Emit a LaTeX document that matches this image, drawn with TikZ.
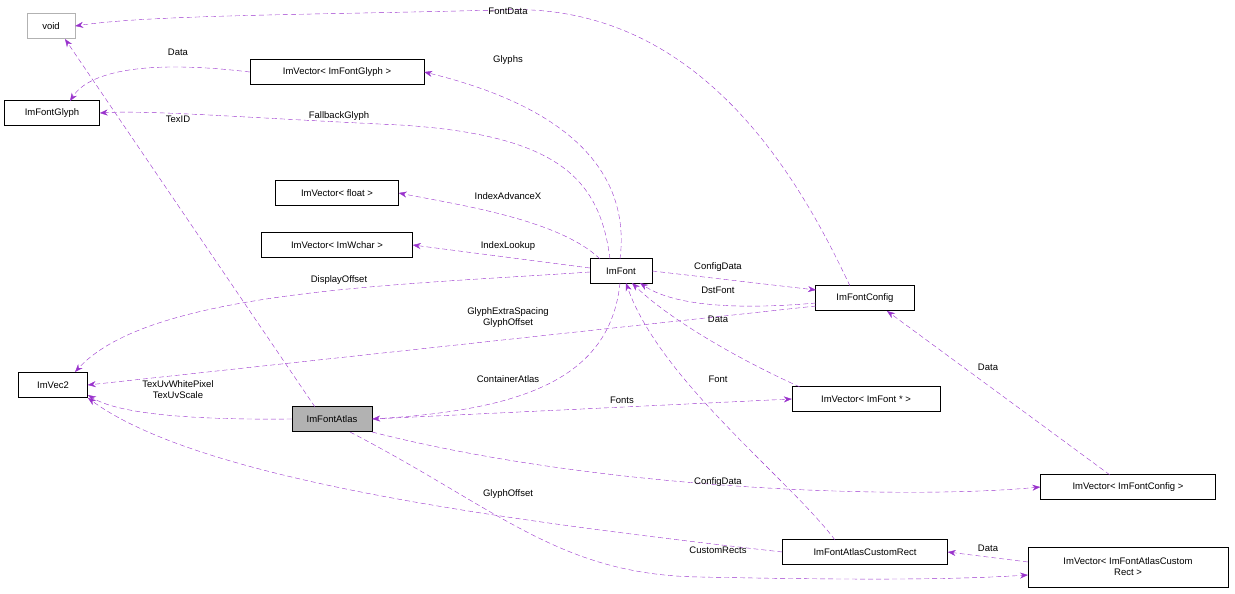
\documentclass[tikz,border=0pt]{standalone}
\usepackage{fontspec}
\setmainfont{Liberation Sans}
\usetikzlibrary{arrows.meta}
\definecolor{edge}{RGB}{153,50,204}
\begin{document}
\begin{tikzpicture}[x=1pt,y=-1pt,
  box/.style={draw,fill=white,minimum height=25pt,inner sep=1pt,font=\fontsize{9.5}{11}\selectfont},
  lbl/.style={font=\fontsize{9.5}{11}\selectfont,inner sep=1pt,align=center},
  e/.style={draw=edge,dashed,dash pattern=on 5pt off 3pt,-{Stealth[length=8pt,width=6pt,fill=edge]}}]
\useasboundingbox (0,0) rectangle (1235,594);
\node[box,draw=gray!60,minimum width=48pt] (void) at (51,26) {void};
\node[box,minimum width=95pt] (glyph) at (52,113) {ImFontGlyph};
\node[box,minimum width=174pt] (vglyph) at (337,72) {ImVector< ImFontGlyph >};
\node[box,minimum width=123pt] (vfloat) at (337,193) {ImVector< float >};
\node[box,minimum width=151pt] (vwchar) at (337,245) {ImVector< ImWchar >};
\node[box,minimum width=62pt] (font) at (621,271) {ImFont};
\node[box,minimum width=99pt] (cfg) at (865,298) {ImFontConfig};
\node[box,minimum width=69pt] (vec2) at (53,385) {ImVec2};
\node[box,fill=black!30,minimum width=80pt] (atlas) at (332,419) {ImFontAtlas};
\node[box,minimum width=148pt] (vfont) at (866,399) {ImVector< ImFont * >};
\node[box,minimum width=175pt] (vcfg) at (1128,487) {ImVector< ImFontConfig >};
\node[box,minimum width=165pt] (rect) at (865,552) {ImFontAtlasCustomRect};
\node[box,minimum width=200pt,minimum height=40pt,align=center] (vrect) at (1128,567) {ImVector< ImFontAtlasCustom\\Rect >};

\draw[e] (850,286) .. controls (800,180) and (700,0) .. (500,10) .. controls (300,15) and (150,15) .. (void.east);
\draw[e] (vglyph.west) .. controls (150,60) and (90,70) .. (70,101);
\draw[e] (620,259) .. controls (630,180) and (580,110) .. (vglyph.east);
\draw[e] (610,259) .. controls (600,180) and (560,135) .. (400,125) .. controls (250,118) and (150,110) .. (glyph.east);
\draw[e] (315,407) -- (65,39);
\draw[e] (600,259) .. controls (560,220) and (460,205) .. (vfloat.east);
\draw[e] (590,268) -- (vwchar.east);
\draw[e] (font.east) -- (816,290);
\draw[e] (816,303) .. controls (760,308) and (680,310) .. (640,283);
\draw[e] (590,272) .. controls (400,285) and (150,290) .. (75,372);
\draw[e] (816,306) -- (vec2.east);
\draw[e] (620,283) .. controls (610,380) and (520,410) .. (atlas.east);
\draw[e] (800,387) .. controls (740,360) and (670,320) .. (632,283);
\draw[e] (atlas.east) -- (vfont.west);
\draw[e] (atlas.west) .. controls (200,420) and (120,415) .. (88,395);
\draw[e] (1110,475) -- (887,311);
\draw[e] (835,540) .. controls (790,480) and (660,380) .. (626,283);
\draw[e] (372,432) .. controls (600,490) and (900,500) .. (vcfg.west);
\draw[e] (rect.west) .. controls (500,520) and (200,480) .. (88,398);
\draw[e] (350,432) .. controls (500,510) and (560,575) .. (700,577) .. controls (850,580) and (950,580) .. (1028,575);
\draw[e] (1028,562) -- (rect.east);

\node[lbl] at (508,11) {FontData};
\node[lbl] at (178,52) {Data};
\node[lbl] at (508,60) {Glyphs};
\node[lbl] at (339,116) {FallbackGlyph};
\node[lbl] at (178,119) {TexID};
\node[lbl] at (508,196) {IndexAdvanceX};
\node[lbl] at (508,246) {IndexLookup};
\node[lbl] at (718,267) {ConfigData};
\node[lbl] at (718,290) {DstFont};
\node[lbl] at (339,280) {DisplayOffset};
\node[lbl] at (508,318) {GlyphExtraSpacing\\GlyphOffset};
\node[lbl] at (718,319) {Data};
\node[lbl] at (508,379) {ContainerAtlas};
\node[lbl] at (718,379) {Font};
\node[lbl] at (178,390) {TexUvWhitePixel\\TexUvScale};
\node[lbl] at (622,400) {Fonts};
\node[lbl] at (988,367) {Data};
\node[lbl] at (718,482) {ConfigData};
\node[lbl] at (508,494) {GlyphOffset};
\node[lbl] at (718,550) {CustomRects};
\node[lbl] at (988,548) {Data};
\end{tikzpicture}
\end{document}
